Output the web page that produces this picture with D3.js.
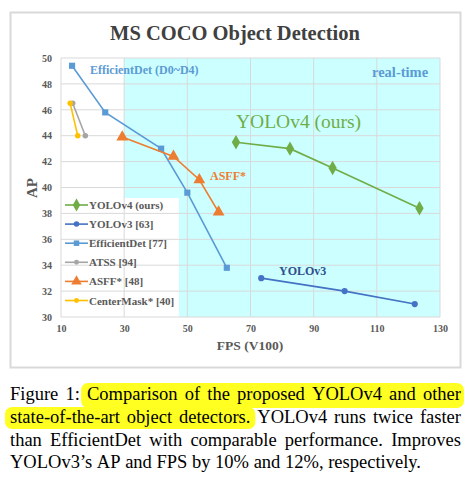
<!DOCTYPE html>
<html><head><meta charset="utf-8">
<script src="https://cdn.jsdelivr.net/npm/d3@7"></script>
<style>body{margin:0;background:#fff}svg{display:block}</style>
</head><body>
<svg id="c" width="468" height="478"></svg>
<script>
const yolov4 = [[65.4,43.5],[82.5,43.0],[96,41.5],[123.5,38.4]];
const yolov3 = [[73.4,33.0],[99.8,32.0],[122,31.0]];
const efficientdet = [[13.5,49.4],[24,45.8],[41.7,43.0],[50,39.6],[62.5,33.8]];
const atss = [[13.7,46.5],[17.7,44.0]];
const asff = [[29.4,43.9],[45.6,42.4],[53.8,40.6],[59.9,38.1]];
const centermask = [[12.9,46.5],[15.3,44.0]];
const xTicks = [10,30,50,70,90,110,130];
const yTicks = [30,32,34,36,38,40,42,44,46,48,50];
const legendNames = ["YOLOv4 (ours)","YOLOv3 [63]","EfficientDet [77]","ATSS [94]","ASFF* [48]","CenterMask* [40]"];
const captionLines = [
  "Figure 1: Comparison of the proposed YOLOv4 and other",
  "state-of-the-art object detectors. YOLOv4 runs twice faster",
  "than EfficientDet with comparable performance. Improves",
  "YOLOv3\u2019s AP and FPS by 10% and 12%, respectively."
];

const svg = d3.select("#c");
const serif = "'Liberation Serif','Times New Roman',serif";
const x = d3.scaleLinear().domain([10,130]).range([61,440]);
const y = d3.scaleLinear().domain([30,50]).range([317,58]);

// outer frame
svg.append("rect").attr("x",10.5).attr("y",12.5).attr("width",450).attr("height",355)
  .attr("fill","#fff").attr("stroke","#d9d9d9").attr("stroke-width",2);

svg.append("text").attr("x",235).attr("y",40).attr("text-anchor","middle")
  .attr("font-family",serif).attr("font-weight","bold").attr("font-size",20.5).attr("fill","#404040")
  .text("MS COCO Object Detection");

// real-time region
svg.append("rect").attr("x",x(30)).attr("y",y(50)).attr("width",x(130)-x(30)).attr("height",y(30)-y(50)).attr("fill","#ccffff");
// legend background
svg.append("rect").attr("x",x(10)).attr("y",198).attr("width",118).attr("height",y(30)-198).attr("fill","#fff");

// grid
const g = svg.append("g");
g.selectAll(".gx").data(xTicks).join("line").attr("x1",d=>x(d)).attr("x2",d=>x(d)).attr("y1",y(30)).attr("y2",y(50))
  .attr("stroke","#d9d9d9").attr("stroke-width",1);
g.selectAll(".gy").data(yTicks).join("line").attr("x1",x(10)).attr("x2",x(130)).attr("y1",d=>y(d)).attr("y2",d=>y(d))
  .attr("stroke","#d9d9d9").attr("stroke-width",1);

// axes (labels only)
const xAxis = svg.append("g").attr("transform",`translate(0,${y(30)})`)
  .call(d3.axisBottom(x).tickValues(xTicks).tickSize(0).tickPadding(8));
const yAxis = svg.append("g").attr("transform",`translate(${x(10)},0)`)
  .call(d3.axisLeft(y).tickValues(yTicks).tickSize(0).tickPadding(9));
[xAxis,yAxis].forEach(a=>{
  a.attr("font-family",serif);
  a.select(".domain").remove();
  a.selectAll("text").attr("font-family",serif).attr("font-weight","bold").attr("font-size",10).attr("fill","#595959");
});

svg.append("text").attr("x",250).attr("y",350).attr("text-anchor","middle")
  .attr("font-family",serif).attr("font-weight","bold").attr("font-size",13.5).attr("fill","#595959").text("FPS (V100)");
svg.append("text").attr("transform","translate(37,188) rotate(-90)").attr("text-anchor","middle")
  .attr("font-family",serif).attr("font-weight","bold").attr("font-size",15).attr("fill","#595959").text("AP");

const line = d3.line().x(d=>x(d[0])).y(d=>y(d[1]));
const series = [
  {data:yolov4, color:"#70ad47", sym:d3.symbolDiamond, size:60},
  {data:yolov3, color:"#4472c4", sym:d3.symbolCircle, size:30},
  {data:efficientdet, color:"#5b9bd5", sym:d3.symbolSquare, size:38},
  {data:atss, color:"#a5a5a5", sym:d3.symbolCircle, size:24},
  {data:asff, color:"#ed7d31", sym:d3.symbolTriangle, size:60},
  {data:centermask, color:"#ffc000", sym:d3.symbolCircle, size:24}
];
series.forEach(s=>{
  svg.append("path").attr("d",line(s.data)).attr("fill","none").attr("stroke",s.color).attr("stroke-width",1.6);
  svg.selectAll(null).data(s.data).join("path")
    .attr("transform",d=>`translate(${x(d[0])},${y(d[1])})`)
    .attr("d",d3.symbol().type(s.sym).size(s.size)).attr("fill",s.color);
});

// legend
series.forEach((s,i)=>{
  const ly = 205 + i*19.1;
  svg.append("line").attr("x1",65).attr("x2",88).attr("y1",ly).attr("y2",ly).attr("stroke",s.color).attr("stroke-width",1.6);
  svg.append("path").attr("transform",`translate(76.5,${ly})`).attr("d",d3.symbol().type(s.sym).size(s.size*0.8)).attr("fill",s.color);
  svg.append("text").attr("x",89).attr("y",ly+4).attr("font-family",serif).attr("font-weight","bold")
    .attr("font-size",11).attr("fill","#595959").text(legendNames[i]);
});

// annotations
const ann = (t,xx,yy,size,color,weight)=>svg.append("text").attr("x",xx).attr("y",yy)
  .attr("font-family",serif).attr("font-weight",weight).attr("font-size",size).attr("fill",color).text(t);
ann("EfficientDet (D0~D4)",90,74,12,"#5b9bd5","bold");
ann("real-time",372,77,14.5,"#5b9bd5","bold");
ann("YOLOv4 (ours)",236,128,19.5,"#70ad47","normal");
ann("ASFF*",210,180,12,"#ed7d31","bold");
ann("YOLOv3",279,275,12,"#2f4f8f","bold");

// caption with justification
const capSize = 18.5, left = 10, right = 461;
const baselines = [400,423,446,468];
const hl = svg.append("g");
const cap = svg.append("g");
const measure = svg.append("text").attr("font-family",serif).attr("font-size",capSize).attr("visibility","hidden");
const wWidth = w => { measure.text(w); return measure.node().getComputedTextLength(); };
const spaceW = wWidth("a b") - wWidth("ab");
const wordPos = [];
captionLines.forEach((ln,li)=>{
  const words = ln.split(" ");
  const widths = words.map(wWidth);
  const total = d3.sum(widths);
  const gap = li < captionLines.length-1 ? (right-left-total)/(words.length-1) : spaceW;
  let cx = left;
  const pos = [];
  words.forEach((w,wi)=>{
    cap.append("text").attr("x",cx).attr("y",baselines[li]).attr("font-family",serif).attr("font-size",capSize).attr("fill","#000").text(w);
    pos.push([cx, cx+widths[wi]]);
    cx += widths[wi] + gap;
  });
  wordPos.push(pos);
});
measure.remove();
// highlight: line 1 words 2..end, line 2 words 0..2
const h1 = [wordPos[0][2][0]-6, wordPos[0][wordPos[0].length-1][1]+3];
const h2 = [wordPos[1][0][0]-5, wordPos[1][2][1]+5];
hl.append("rect").attr("x",h1[0]).attr("y",baselines[0]-17).attr("width",h1[1]-h1[0]).attr("height",25).attr("rx",7).attr("fill","#ffff22");
hl.append("rect").attr("x",h2[0]).attr("y",baselines[1]-16).attr("width",h2[1]-h2[0]).attr("height",22).attr("rx",7).attr("fill","#ffff22");
</script>
</body></html>
